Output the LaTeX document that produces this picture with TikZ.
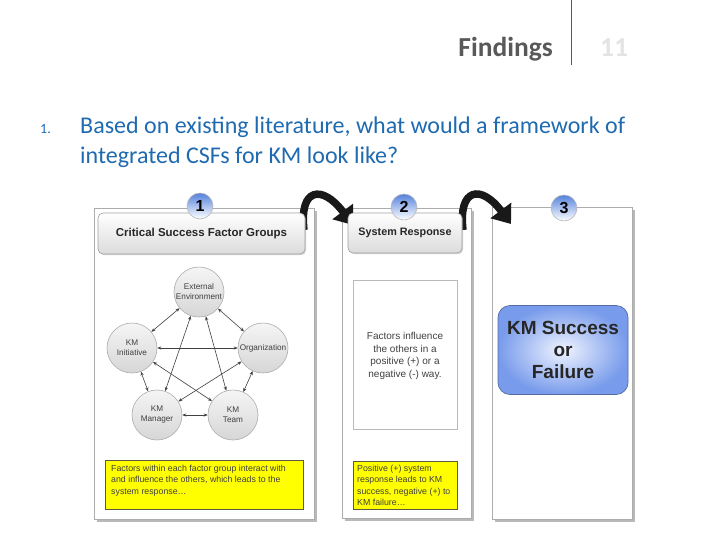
\documentclass[tikz,border=0pt]{standalone}
\usepackage{fontspec}
\setmainfont{Liberation Sans}
\newfontfamily\calibri{Carlito}
\usetikzlibrary{arrows.meta,shadows}
\definecolor{qblue}{RGB}{31,106,176}
\definecolor{fgray}{RGB}{89,89,89}
\definecolor{numblue}{RGB}{85,130,220}
\definecolor{kmblue}{RGB}{120,155,235}
\definecolor{kmlight}{RGB}{240,244,255}
\definecolor{ybox}{RGB}{255,255,0}
\definecolor{yborder}{RGB}{90,90,60}
\begin{document}
\begin{tikzpicture}[x=1pt,y=-1pt,
  panel/.style={draw=gray!65, fill=white, line width=0.9pt,
    drop shadow={shadow xshift=2.5pt, shadow yshift=-2.5pt, fill=black!50, opacity=0.55}},
  header/.style={rounded corners=5pt, draw=gray!75, top color=white, bottom color=gray!28,
    line width=0.6pt, drop shadow={shadow xshift=1.2pt, shadow yshift=-1.2pt, fill=black!40, opacity=0.4},
    font=\bfseries, text=black!85},
  numc/.style={circle, minimum size=26pt, inner sep=0pt, draw=gray!55, line width=0.6pt,
    top color=numblue, middle color=numblue!35, bottom color=white, font=\fontsize{16}{16}\selectfont\bfseries},
  factor/.style={circle, minimum size=50pt, inner sep=0pt, draw=gray!65, line width=0.6pt,
    top color=gray!8, bottom color=gray!32, align=center, text=black!75,
    font=\fontsize{8.2}{10}\selectfont},
  link/.style={draw=black!75, line width=0.6pt, {Stealth[length=4pt,width=3.2pt]}-{Stealth[length=4pt,width=3.2pt]}},
  bigarrow/.style={draw=black!90, line width=7.5pt, -{Triangle[length=17pt,width=25pt]}},
  ybx/.style={draw=yborder, fill=ybox, line width=0.7pt},
  ytext/.style={anchor=north west, align=left, inner sep=0pt, text=black!75,
    font=\fontsize{8.8}{11.5}\selectfont}
]
\useasboundingbox (0,0) rectangle (728,546);

% slide header
\draw[black!65, line width=0.8pt] (571,0) coordinate (vt) -- (571,65) coordinate (vb);
\node[anchor=base east, inner sep=0pt, text=fgray, font=\calibri\bfseries\fontsize{27.5}{30}\selectfont] (find) at (553,56) {Findings};
\node[anchor=base west, inner sep=0pt, text=gray!22, font=\calibri\bfseries\fontsize{27.5}{30}\selectfont] (pg) at (600,56) {11};

% question
\node[anchor=base west, inner sep=0pt, text=qblue, font=\calibri\fontsize{14}{16}\selectfont] (num) at (40,133) {1.};
\node[anchor=base west, inner sep=0pt, text=qblue, font=\calibri\fontsize{24}{29}\selectfont] (q1) at (80,133) {Based on existing literature, what would a framework of};
\node[anchor=base west, inner sep=0pt, text=qblue, font=\calibri\fontsize{24}{29}\selectfont] (q2) at (80,163) {integrated CSFs for KM look like?};

% panels
\node[panel, anchor=north west, minimum width=220pt, minimum height=311pt, inner sep=0pt] (p1) at (94,208) {};
\node[panel, anchor=north west, minimum width=129pt, minimum height=310pt, inner sep=0pt] (p2) at (342,208) {};
\node[panel, anchor=north west, minimum width=140pt, minimum height=312pt, inner sep=0pt] (p3) at (492,207) {};

% curved arrows
\coordinate (a1s) at (304,230);
\coordinate (a1e) at (353,225);
\coordinate (a2s) at (463,230);
\coordinate (a2e) at (511,224);
\draw[bigarrow] (a1s) .. controls (299,188) and (322,184) .. (a1e);
\draw[bigarrow] (a2s) .. controls (458,188) and (481,184) .. (a2e);

% headers
\node[header, minimum width=207pt, minimum height=41pt, inner sep=0pt, font=\bfseries\fontsize{11.5}{12}\selectfont] (h1) at (201.5,233.5) {Critical Success Factor Groups};
\node[header, minimum width=114pt, minimum height=40pt, inner sep=0pt, font=\bfseries\fontsize{10.8}{12}\selectfont] (h2) at (405,233) {System Response};

% number circles
\node[numc] (n1) at (200,206) {1};
\node[numc] (n2) at (404,207) {2};
\node[numc] (n3) at (564,208) {3};

% factor circles
\node[factor] (ee) at (199,292) {External\\Environment};
\node[factor] (ki) at (132,348) {KM\\Initiative};
\node[factor] (org) at (263,348) {Organization};
\node[factor] (mgr) at (157,415) {KM\\Manager};
\node[factor] (team) at (233,415) {KM\\Team};

\draw[link] (ee) -- (ki);
\draw[link] (ee) -- (org);
\draw[link] (ki) -- (mgr);
\draw[link] (org) -- (team);
\draw[link] (mgr) -- (team);
\draw[link] (ee) -- (mgr);
\draw[link] (ee) -- (team);
\draw[link] (ki) -- (org);
\draw[link] (ki) -- (team);
\draw[link] (org) -- (mgr);

% yellow boxes
\node[ybx, anchor=north west, minimum width=198pt, minimum height=49pt, inner sep=0pt] (y1) at (105,460) {};
\node[ytext] (y1t) at (111,464.5) {Factors within each factor group interact with\\and influence the others, which leads to the\\system response\ldots};
\node[ybx, anchor=north west, minimum width=104pt, minimum height=48pt, inner sep=0pt] (y2) at (353,461) {};
\node[ytext] (y2t) at (357,464.5) {Positive (+) system\\response leads to KM\\success, negative (+) to\\KM failure\ldots};

% white box in panel 2
\node[draw=gray!55, fill=white, line width=0.7pt, anchor=north west, minimum width=104pt, minimum height=149pt, inner sep=0pt] (wb) at (353,280) {};
\node[align=center, text=black!75, font=\fontsize{10}{12.7}\selectfont, inner sep=0pt] (wbt) at (405,356) {Factors influence\\the others in a\\positive (+) or a\\negative (-) way.};

% KM success box
\node[draw=kmblue!70!black, line width=0.7pt, rounded corners=12pt, inner color=kmlight, outer color=kmblue,
  minimum width=130pt, minimum height=89pt, inner sep=0pt, align=center, text=black!85,
  font=\bfseries\fontsize{19}{22}\selectfont] (km) at (563,350) {KM Success\\or\\Failure};
\end{tikzpicture}
\end{document}
